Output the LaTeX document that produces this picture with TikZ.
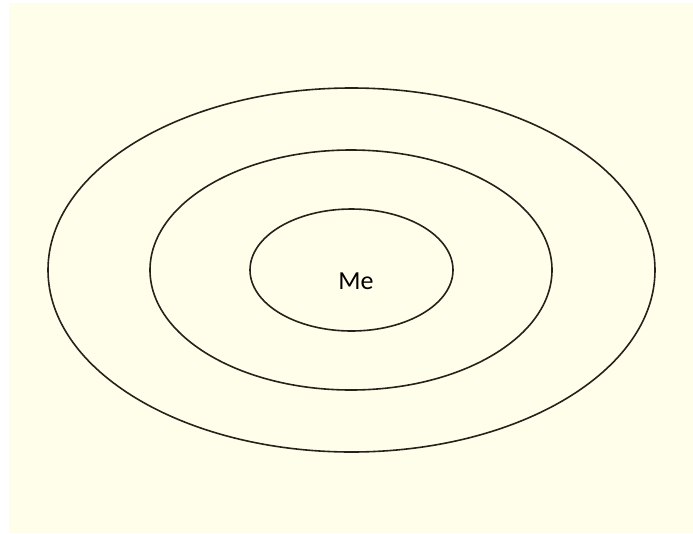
\documentclass[tikz,border=0pt]{standalone}
\usepackage{fontspec}
\setmainfont{Carlito}
\definecolor{cream}{RGB}{255,254,235}
\definecolor{ring}{RGB}{40,32,26}
\begin{document}
\begin{tikzpicture}[x=0.75pt,y=-0.75pt,
  ringstyle/.style={draw=ring,line width=1.2pt}]
\useasboundingbox (0,0) rectangle (693,533);
\fill[white] (0,0) rectangle (693,533);
\fill[cream] (9,3) rectangle (693,533);
\draw[ringstyle] (351.5,270) ellipse [x radius=303.5, y radius=182];
\draw[ringstyle] (351,270) ellipse [x radius=201, y radius=120];
\draw[ringstyle] (351.5,270) ellipse [x radius=101.5, y radius=61];
\node[font=\fontsize{19.5}{21}\selectfont] (me) at (356,281) {Me};
\end{tikzpicture}
\end{document}
